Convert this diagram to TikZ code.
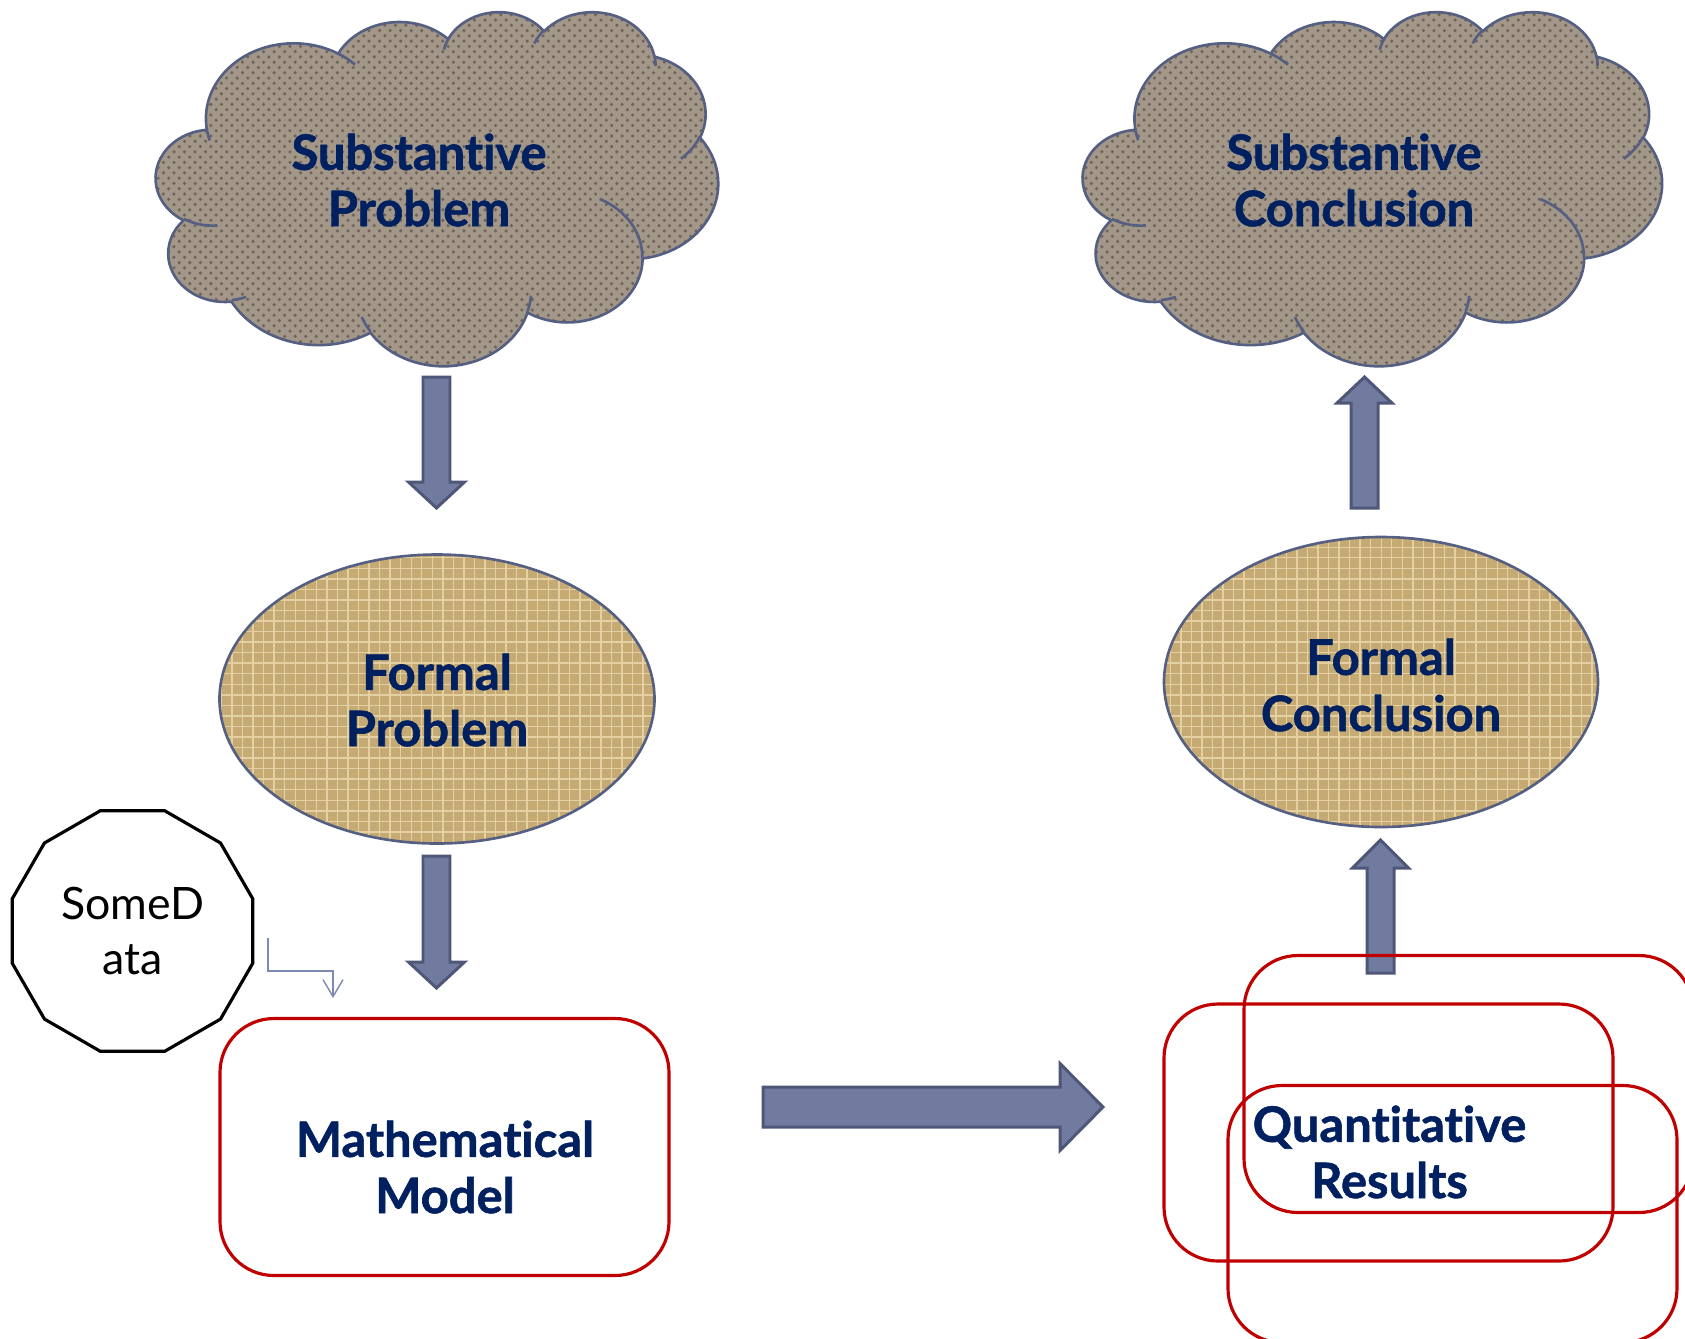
\documentclass[tikz,border=0pt]{standalone}
\usepackage{fontspec}
\setmainfont{Lato}[Ligatures=CommonOff, BoldFeatures={FakeBold=1.2}]
\usetikzlibrary{shapes.geometric,calc,arrows.meta,patterns}

\definecolor{granite}{RGB}{163,151,138}
\definecolor{granitedot}{RGB}{112,100,88}
\definecolor{burlap}{RGB}{197,170,115}
\definecolor{burlaplt}{RGB}{228,208,162}
\definecolor{rim}{RGB}{84,95,130}
\definecolor{slate}{RGB}{113,123,160}
\definecolor{slatedk}{RGB}{79,87,120}
\definecolor{navy}{RGB}{0,32,96}
\definecolor{boxred}{RGB}{192,0,0}
\definecolor{thinblue}{RGB}{125,138,178}

% one puff of the cloud: x radius, y radius, start angle, sweep
\newcommand\puffarc[4]{arc[x radius=#1, y radius=#2,
  start angle={atan2(#1*sin(#3),#2*cos(#3))},
  delta angle={mod(atan2(#1*sin(#3+#4),#2*cos(#3+#4))-atan2(#1*sin(#3),#2*cos(#3))+720,360)}]}

\tikzset{
  puffline/.style={draw=rim, line width=0.75pt},
  puffbody/.style={puffline, preaction={fill=granite},
    pattern=crosshatch dots, pattern color=granitedot},
  oval/.style={ellipse, draw=rim, line width=0.75pt, preaction={fill=burlap},
    pattern=grid, pattern color=burlaplt, inner sep=0pt},
  lbl/.style={text=navy, font=\fontsize{13.9}{16}\selectfont\bfseries,
    align=center, inner sep=0pt},
  redbox/.style={draw=boxred, line width=0.9pt, rounded corners=0.54cm,
    minimum width=4.49cm, minimum height=2.57cm, inner sep=0pt},
  fatarrow/.style={draw=slatedk, fill=slate, line width=0.85pt, line join=miter},
  elbow/.style={draw=thinblue, line width=0.4pt,
    -{Straight Barb[length=1.7mm,width=2mm]}},
  % cloud drawn in a 43.2 x 43.2 box, y pointing down
  pics/puffcloud/.style={code={
    \path[puffbody] (3.9,14.37)
      \puffarc{6.753}{9.19}{-190.4875}{123.7805}
      \puffarc{5.333}{7.267}{-144.1024}{89.9452}
      \puffarc{4.365}{5.945}{-145.8079}{99.723}
      \puffarc{4.857}{6.595}{-130.9861}{117.2417}
      \puffarc{5.333}{7.273}{-78.7089}{109.0269}
      \puffarc{6.775}{9.22}{-46.2673}{130.269}
      \puffarc{5.785}{7.867}{0.625}{114.0333}
      \puffarc{6.752}{9.215}{22.4516}{115.1726}
      \puffarc{7.72}{10.543}{66.2426}{75.711}
      \puffarc{4.36}{5.918}{-274.9421}{146.7356}
      \puffarc{4.345}{5.945}{-246.8285}{152.5189} -- cycle;
    \draw[puffline]
      (4.693,26.177) \puffarc{4.345}{5.945}{86.742}{26.4295}
      (6.928,34.899) \puffarc{4.36}{5.918}{73.6105}{11.4475}
      (16.478,39.09) \puffarc{6.752}{9.215}{137.6242}{14.0811}
      (28.827,34.751) \puffarc{6.752}{9.215}{6.4533}{15.9984}
      (34.129,22.954) \puffarc{5.785}{7.867}{-70.2924}{70.9174}
      (41.798,15.354) \puffarc{5.333}{7.273}{30.318}{27.7515}
      (38.324,5.426) \puffarc{4.857}{6.595}{-13.7443}{14.8589}
      (29.078,3.952) \puffarc{4.857}{6.595}{-149.1815}{18.1954}
      (22.141,4.72) \puffarc{4.365}{5.945}{-163.4943}{17.6864}
      (14,5.192) \puffarc{6.753}{9.19}{-66.707}{12.3194}
      (4.127,15.789) \puffarc{6.753}{9.19}{157.6544}{11.8582};
  }}
}

% block arrow: tail, tip, half shaft, half head, head length
\newcommand\blockarrow[5]{%
  \coordinate (ba-h) at ($(#2)!#5!(#1)$);
  \draw[fatarrow] ($(#1)!#3!90:(#2)$) -- ($(ba-h)!#3!90:(#2)$)
    -- ($(ba-h)!#4!90:(#2)$) -- (#2) -- ($(ba-h)!#4!-90:(#2)$)
    -- ($(ba-h)!#3!-90:(#2)$) -- ($(#1)!#3!-90:(#2)$) -- cycle;}

\begin{document}
\begin{tikzpicture}
\useasboundingbox (0,0) rectangle (16.85,-13.38);

% clouds
\pic[x=0.1301cm, y=-0.08194cm] (subP) at (1.56cm,-0.11cm) {puffcloud};
\pic[x=0.1340cm, y=-0.08194cm] (subC) at (10.83cm,-0.11cm) {puffcloud};
\node[lbl] (tSubP) at (4.19,-1.80) {Substantive\\Problem};
\node[lbl] (tSubC) at (13.54,-1.80) {Substantive\\Conclusion};

% ellipses
\node[oval, minimum width=4.35cm, minimum height=2.89cm] (formP) at (4.37,-6.99) {};
\node[oval, minimum width=4.34cm, minimum height=2.90cm] (formC) at (13.81,-6.82) {};
\node[lbl] (tFormP) at (4.37,-7.00) {Formal\\Problem};
\node[lbl] (tFormC) at (13.81,-6.85) {Formal\\Conclusion};

% block arrows
\coordinate (a1s) at (4.365,-3.77);  \coordinate (a1e) at (4.365,-5.08);
\coordinate (a2s) at (4.365,-8.56);  \coordinate (a2e) at (4.365,-9.88);
\coordinate (a3s) at (7.63,-11.07);  \coordinate (a3e) at (11.03,-11.07);
\coordinate (a4s) at (13.805,-9.73); \coordinate (a4e) at (13.805,-8.40);
\coordinate (a5s) at (13.645,-5.08); \coordinate (a5e) at (13.645,-3.77);
\blockarrow{a1s}{a1e}{0.135cm}{0.28cm}{0.26cm}
\blockarrow{a2s}{a2e}{0.135cm}{0.28cm}{0.26cm}
\blockarrow{a3s}{a3e}{0.20cm}{0.435cm}{0.43cm}
\blockarrow{a4s}{a4e}{0.135cm}{0.28cm}{0.28cm}
\blockarrow{a5s}{a5e}{0.135cm}{0.275cm}{0.26cm}

% data input
\node[regular polygon, regular polygon sides=12, draw, line width=0.9pt,
  minimum size=2.49cm, inner sep=0pt, align=center,
  font=\fontsize{12.7}{15.6}\selectfont] (data) at (1.325,-9.31) {SomeD\\ata};
\coordinate (bendS) at (2.68,-9.38);
\coordinate (bendE) at (3.33,-9.98);
\draw[elbow] (bendS) -- ++(0,-0.33) -| (bendE);

% model and results
\node[redbox] (model) at (4.445,-11.47) {};
\node[lbl] (tModel) at (4.45,-11.67) {Mathematical\\Model};

\node[redbox] (resA) at (14.685,-10.84) {};
\node[redbox] (resB) at (13.885,-11.325) {};
\node[redbox] (resC) at (14.525,-12.14) {};
\node[lbl] (tRes) at (13.895,-11.52) {Quantitative\\Results};

\end{tikzpicture}
\end{document}
